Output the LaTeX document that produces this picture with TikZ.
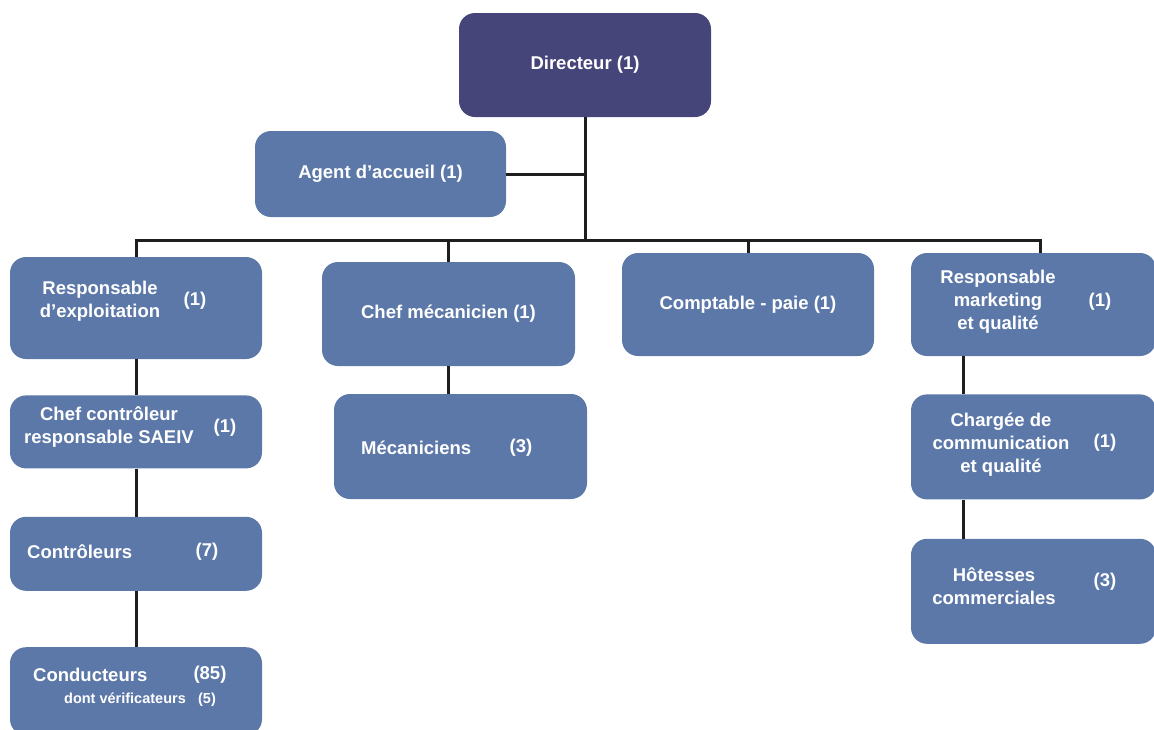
\documentclass[tikz,border=0pt]{standalone}
\usepackage{fontspec}
\setmainfont{Liberation Sans}
\usetikzlibrary{positioning, calc}
\definecolor{boss}{HTML}{46457A}
\definecolor{staff}{HTML}{5C78A9}
\definecolor{wire}{HTML}{1E1E1E}

\begin{document}
\begin{tikzpicture}[x=1pt, y=-1pt, font=\fontsize{18.5}{23}\selectfont\bfseries,
        every node/.style={inner sep=0pt, text=white},
        box/.style={fill=staff, rounded corners=16pt, minimum width=252pt},
        head/.style={box, fill=boss},
        small/.style={font=\fontsize{14.5}{17}\selectfont\bfseries},
        link/.style={draw=wire, line width=3pt}]
        \useasboundingbox (0,0) rectangle (1154,729);
        \clip (0,0) rectangle (1154,729);
        \node[head, minimum height=104pt] (dir) at (585,65) {Directeur (1)};
        \node[box, minimum width=251pt, minimum height=86pt] (agent) at (380.5,174) {Agent d’accueil (1)};
        \node[box, minimum height=102pt] (expl) at (136,308) {};
        \node[box, minimum height=73pt] (chefctrl) [below=36pt of expl] {};
        \node[box, minimum height=74pt] (ctrl) [below=48pt of chefctrl] {};
        \node[box, minimum height=88pt] (cond) [below=56pt of ctrl] {};
        \node[box, minimum width=253pt, minimum height=104pt] (chefmec) at (448.5,314) {Chef mécanicien (1)};
        \node[box, minimum width=253pt, minimum height=105pt] (mec) at (460.5,446.5) {};
        \node[box, minimum height=103pt] (compt) at (748,304.5) {Comptable - paie (1)};
        \node[box, minimum width=245pt, minimum height=103pt] (mkt) at (1033.5,304.5) {};
        \node[box, minimum width=245pt, minimum height=105pt] (charg) [below=38pt of mkt] {};
        \node[box, minimum width=245pt, minimum height=105pt] (hot) [below=39pt of charg] {};
        \node[align=center] (expl_t) at (100,301) {Responsable\\d’exploitation};
        \node (expl_n) at (195,301) {(1)};
        \node[align=center] (chefctrl_t) at (109,427) {Chef contrôleur\\responsable SAEIV};
        \node (chefctrl_n) at (225,428) {(1)};
        \node[anchor=west] (ctrl_t) at (27,552) {Contrôleurs};
        \node (ctrl_n) at (207,552) {(7)};
        \node[anchor=west] (cond_t) at (33,675) {Conducteurs};
        \node (cond_n) at (210,675) {(85)};
        \node[small] (verif_t) at (125,698) {dont vérificateurs};
        \node[small] (verif_n) at (207,700) {(5)};
        \node[anchor=west] (mec_t) at (361,448) {Mécaniciens};
        \node (mec_n) at (521,448) {(3)};
        \node[align=center] (mkt_t) at (998,302) {Responsable\\marketing\\et qualité};
        \node (mkt_n) at (1100,302) {(1)};
        \node[align=center] (charg_t) at (1001,445) {Chargée de\\communication\\et qualité};
        \node (charg_n) at (1105,443) {(1)};
        \node[align=center] (hot_t) at (994,586) {Hôtesses\\commerciales};
        \node (hot_n) at (1105,582) {(3)};
        \coordinate (bus) at (585,240);
        \coordinate (mktdrop) at ([xshift=6.5pt]mkt.north);
        \path[link] (dir) -- (bus)
        (agent.east) -- (agent.east -| bus)
        (expl.north) |- (bus) -| (mktdrop)
        (chefmec) -- (chefmec.north |- bus)
        (compt) -- (compt.north |- bus)
        (expl) -- (chefctrl)
        (chefctrl) -- (ctrl)
        (ctrl) -- (cond)
        (chefmec) -- (chefmec |- mec.north)
        ([xshift=-70.5pt]mkt.south) -- ([xshift=-70.5pt]charg.north)
        ([xshift=-70.5pt]charg.south) -- ([xshift=-70.5pt]hot.north);
    \end{tikzpicture}
\end{document}
